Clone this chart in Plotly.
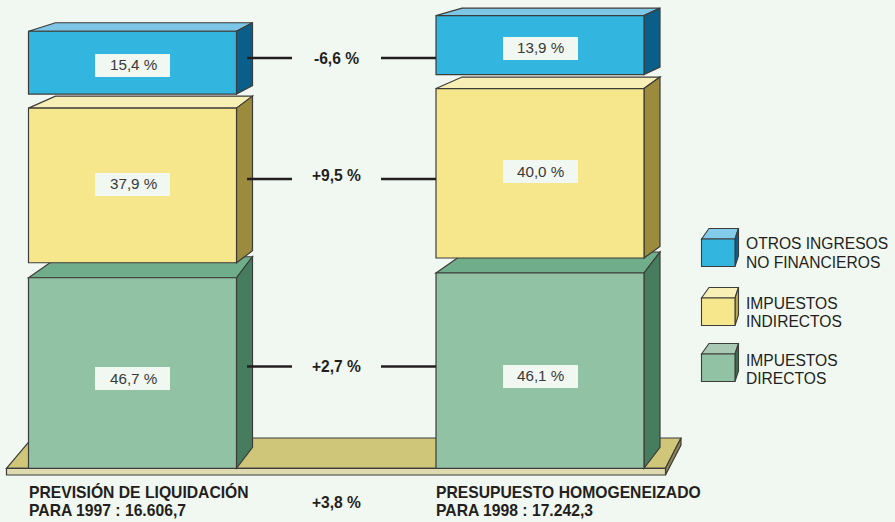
import plotly.graph_objects as go

# ---- data ----
series = ["IMPUESTOS DIRECTOS", "IMPUESTOS INDIRECTOS", "OTROS INGRESOS NO FINANCIEROS"]
totals = [16606.7, 17242.3]
shares_1997 = [46.7, 37.9, 15.4]
shares_1998 = [46.1, 40.0, 13.9]
share_labels_1997 = ["46,7 %", "37,9 %", "15,4 %"]
share_labels_1998 = ["46,1 %", "40,0 %", "13,9 %"]
change_labels = ["+2,7 %", "+9,5 %", "-6,6 %"]
total_change_label = "+3,8 %"
captions_1997 = ["PREVISIÓN DE LIQUIDACIÓN", "PARA 1997 : 16.606,7"]
captions_1998 = ["PRESUPUESTO HOMOGENEIZADO", "PARA 1998 : 17.242,3"]
legend_lines = [["IMPUESTOS", "DIRECTOS"], ["IMPUESTOS", "INDIRECTOS"], ["OTROS INGRESOS", "NO FINANCIEROS"]]

# ---- style ----
W, H = 895, 522
BG = "#F1F7F1"
INK = "#231F20"
EDGE = "#3C3C3A"
FONT = "Liberation Sans, Arial, sans-serif"
FRONT = ["#90C2A3", "#F7E78C", "#32B5DE"]
TOP = ["#70AD8A", "#F8EFB6", "#7EC6E6"]
SIDE = ["#467D5E", "#9C8B3C", "#0A5F8A"]
LEG_TOP = ["#AAC9B5", "#F8EFB6", "#82CBEA"]
LEG_SIDE = ["#3F6B52", "#B9A850", "#0B5E8B"]
BASE_PX = 468.3
K = 0.02457                    # pixels per unit of amount
X_CENTER = [132.5, 540.0]
BAR_W = 208
GAPS_PX = [0, 15, 14]
DEPTH = [[21, 12, 8.5], [21, 11.5, 7.5]]
BACK_L = [[30, 27, 27], [30, 26, 26]]
BACK_R = 16
LABEL_SHIFT = [[-5, 1, -2.5], [-6, 1.5, -3.5]]
TEXT_SHIFT = [[-5, 2, -1.5], [-5, 1.5, -2.5]]


def ypx(px):
    return (BASE_PX - px) / K


def ydelta(px):
    return px / K


def poly(pts, fill, ref="data", lw=1.2, line=EDGE):
    if ref == "data":
        path = "M " + " L ".join(f"{x},{ypx(y)}" for x, y in pts) + " Z"
        yref = "y"
    else:
        path = "M " + " L ".join(f"{x},{1 - y / H}" for x, y in pts) + " Z"
        yref = "paper"
    return dict(type="path", path=path, xref="x", yref=yref, layer="below",
                fillcolor=fill, line=dict(color=line, width=lw))


shapes = []
annotations = []


def text(x, px, s, size=15, bold=False, color=INK, anchor="center"):
    annotations.append(dict(x=x, y=1 - px / H, xref="x", yref="paper", text=f"<b>{s}</b>" if bold else s,
                            showarrow=False, xanchor=anchor, yanchor="middle", borderwidth=0, borderpad=0,
                            font=dict(family=FONT, size=size, color=color)))


# platform
plat_l, plat_r = 6.5, 665.5
shapes.append(poly([(plat_l, BASE_PX), (32, 438), (681, 438), (plat_r, BASE_PX)], "#CFC679"))
shapes.append(poly([(plat_r, BASE_PX), (681, 438), (681, 445), (plat_r, 475)], "#8E8655"))
shapes.append(poly([(plat_l, BASE_PX), (plat_r, BASE_PX), (plat_r, 475), (plat_l, 475)], "#E0DAB0"))

# stacks
fig = go.Figure()
bar_x = {i: [] for i in range(3)}
bar_y = {i: [] for i in range(3)}
bar_base = {i: [] for i in range(3)}
stacks = [(shares_1997, share_labels_1997), (shares_1998, share_labels_1998)]
for s, (shares, labels) in enumerate(stacks):
    base = 0.0
    for i, share in enumerate(shares):
        base += ydelta(GAPS_PX[i])
        h = share / 100 * totals[s]
        bar_x[i].append(X_CENTER[s])
        bar_y[i].append(h)
        bar_base[i].append(base)
        xl = X_CENTER[s] - BAR_W / 2
        xr = X_CENTER[s] + BAR_W / 2
        top_px = BASE_PX - (base + h) * K
        bot_px = BASE_PX - base * K
        d = DEPTH[s][i]
        shapes.append(poly([(xl, top_px), (xl + BACK_L[s][i], top_px - d), (xr + BACK_R, top_px - d), (xr, top_px)], TOP[i]))
        shapes.append(poly([(xr, top_px), (xr + BACK_R, top_px - d), (xr + BACK_R, bot_px - d), (xr, bot_px)], SIDE[i]))
        # label plate, then its text
        annotations.append(dict(x=X_CENTER[s], y=base + h / 2, xref="x", yref="y", text=" ",
                                showarrow=False, width=75, height=23, bgcolor=BG, borderpad=0, borderwidth=0,
                                xanchor="center", yanchor="middle", yshift=LABEL_SHIFT[s][i],
                                font=dict(family=FONT, size=15, color="#3A3A3A")))
        annotations.append(dict(x=X_CENTER[s] + 0.5, y=base + h / 2, xref="x", yref="y", text=labels[i],
                                showarrow=False, borderpad=0, borderwidth=0,
                                xanchor="center", yanchor="middle", yshift=TEXT_SHIFT[s][i],
                                font=dict(family=FONT, size=15.2, color="#3A3A3A")))
        base += h

for i in range(3):
    fig.add_trace(go.Bar(x=bar_x[i], y=bar_y[i], base=bar_base[i], width=BAR_W, name=series[i],
                         marker=dict(color=FRONT[i], line=dict(color=EDGE, width=1.2)),
                         showlegend=False, hoverinfo="name+y"))

# connectors and change labels
conn_px = [366.5, 179, 58]
label_px = [366, 176, 58]
for cy, ly, lab in zip(conn_px, label_px, change_labels):
    for xs in ([247, 292], [381, 436]):
        fig.add_trace(go.Scatter(x=xs, y=[ypx(cy), ypx(cy)], mode="lines", showlegend=False, hoverinfo="skip",
                                 line=dict(color=INK, width=2.6)))
    text(336.5, ly, lab, size=15.6, bold=True)
text(336.5, 502, total_change_label, size=15.6, bold=True)

# captions
for x0, cap in zip([29, 436], [captions_1997, captions_1998]):
    text(x0, 492, cap[0], size=15.7, bold=True, anchor="left")
    text(x0, 510, cap[1], size=15.7, bold=True, anchor="left")

# legend
leg_top = [354, 298, 239]
line_px = [[360, 378], [303, 321], [244, 262]]
for i in range(3):
    t = leg_top[i]
    b = t + 27.5
    fl, fr = 701.5, 735
    dpt = 10.5
    shapes.append(poly([(fl, t), (fl + 7.5, t - dpt), (fr + 3.5, t - dpt), (fr, t)], LEG_TOP[i], "paper", 1.1))
    shapes.append(poly([(fr, t), (fr + 3.5, t - dpt), (fr + 3.5, b - dpt), (fr, b)], LEG_SIDE[i], "paper", 1.1))
    shapes.append(poly([(fl, t), (fr, t), (fr, b), (fl, b)], FRONT[i], "paper", 1.1))
    for p, s in zip(line_px[i], legend_lines[i]):
        text(746, p, s, size=15.6, anchor="left")

fig.update_layout(
    width=W, height=H, margin=dict(l=0, r=0, t=0, b=0),
    paper_bgcolor=BG, plot_bgcolor=BG, barmode="overlay",
    shapes=shapes, annotations=annotations, showlegend=False,
    xaxis=dict(range=[0, W], visible=False, fixedrange=True),
    yaxis=dict(range=[ypx(H), ypx(0)], visible=False, fixedrange=True),
)
fig.write_html("out.html", config=dict(displayModeBar=False),
               post_script="document.body.style.margin='0';document.body.style.background='" + BG + "';")
